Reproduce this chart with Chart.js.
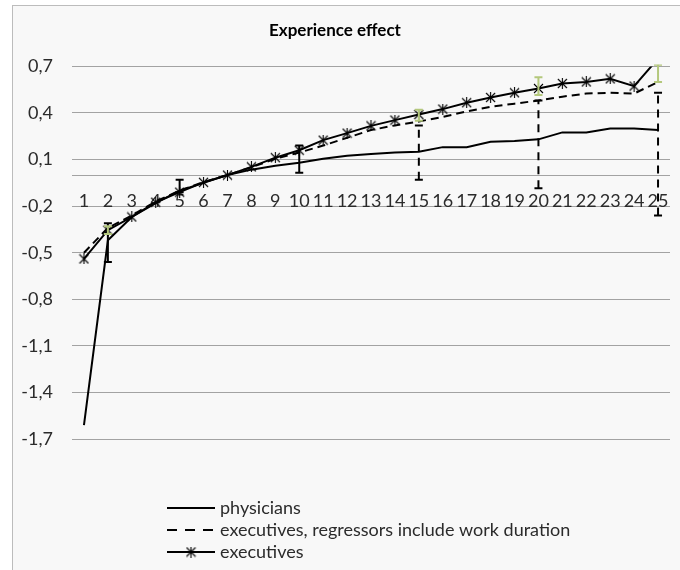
<!DOCTYPE html>
<html>
<head>
<meta charset="utf-8">
<script src="https://cdn.jsdelivr.net/npm/chart.js@4.4.0/dist/chart.umd.min.js"></script>
<style>
    html, body { margin: 0; padding: 0; background: #ffffff; overflow: hidden; }
    .frame {
        position: absolute; left: 12px; top: 5px; width: 700px; height: 600px;
        border: 1px solid #bcbcbc; background: #f8f8f8;
    }
    #wrap { position: absolute; left: 0; top: 0; width: 680px; height: 570px; }
</style>
</head>
<body>
<div class="frame"></div>
<div id="wrap"><canvas id="experienceChart" width="680" height="570"></canvas></div>
<script>
// years of experience
const years = ['1', '2', '3', '4', '5', '6', '7', '8', '9', '10', '11', '12', '13',
    '14', '15', '16', '17', '18', '19', '20', '21', '22', '23', '24', '25'];

const physicians = [-1.61, -0.42, -0.27, -0.18, -0.10, -0.05, 0.0, 0.035, 0.06, 0.08, 0.105, 0.125, 0.135,
    0.145, 0.15, 0.18, 0.18, 0.215, 0.22, 0.23, 0.275, 0.275, 0.30, 0.30, 0.29];

const executivesWork = [-0.50, -0.34, -0.26, -0.17, -0.10, -0.045, 0.0, 0.05, 0.105, 0.145, 0.19, 0.24, 0.29,
    0.32, 0.345, 0.375, 0.41, 0.44, 0.46, 0.48, 0.505, 0.525, 0.53, 0.525, 0.60];

const executives = [-0.54, -0.355, -0.27, -0.175, -0.11, -0.047, 0.0, 0.053, 0.112, 0.16, 0.225, 0.27, 0.317,
    0.354, 0.39, 0.425, 0.466, 0.50, 0.53, 0.558, 0.59, 0.60, 0.62, 0.573, 0.75];

const yTicks = [-1.7, -1.4, -1.1, -0.8, -0.5, -0.2, 0.1, 0.4, 0.7];

// error bars (year, low, high)
const solidErrYears = [2, 5, 10];
const solidErrLow = [-0.56, -0.11, 0.015];
const solidErrHigh = [-0.31, -0.03, 0.19];

const dashedErrYears = [15, 20, 25];
const dashedErrLow = [-0.03, -0.085, -0.26];
const dashedErrHigh = [0.32, 0.48, 0.53];

const greenErrYears = [2, 15, 20, 25];
const greenErrLow = [-0.38, 0.35, 0.515, 0.60];
const greenErrHigh = [-0.33, 0.42, 0.63, 0.71];

const FONT = 'Lato, "Open Sans", sans-serif';
const TEXT = '#2b2b2b';

// Excel-like star marker: an x with a vertical stroke
function makeStar() {
    const c = document.createElement('canvas');
    c.width = 11;
    c.height = 11;
    const g = c.getContext('2d');
    g.strokeStyle = '#000';
    g.lineWidth = 1.1;
    g.beginPath();
    g.moveTo(1, 1); g.lineTo(10, 10);
    g.moveTo(10, 1); g.lineTo(1, 10);
    g.moveTo(5.5, 0); g.lineTo(5.5, 11);
    g.stroke();
    return c;
}
const star = makeStar();

const errorBarGroups = [
    { years: solidErrYears, low: solidErrLow, high: solidErrHigh, color: '#000', dash: [] },
    { years: dashedErrYears, low: dashedErrLow, high: dashedErrHigh, color: '#000', dash: [8, 6] },
    { years: greenErrYears, low: greenErrLow, high: greenErrHigh, color: '#b4c87c', dash: [] }
];

const errorBarPlugin = {
    id: 'errorBars',
    afterDatasetsDraw(chart) {
        const { ctx, chartArea, scales: { x, y } } = chart;
        ctx.save();
        ctx.beginPath();
        ctx.rect(chartArea.left, chartArea.top - 2, chartArea.width, chartArea.height + 4);
        ctx.clip();
        errorBarGroups.forEach(group => {
            ctx.strokeStyle = group.color;
            ctx.lineWidth = 2;
            group.years.forEach((yr, i) => {
                const px = x.getPixelForValue(yr - 1);
                const lo = y.getPixelForValue(group.low[i]);
                const hi = y.getPixelForValue(group.high[i]);
                ctx.setLineDash(group.dash);
                ctx.beginPath();
                ctx.moveTo(px, lo);
                ctx.lineTo(px, hi);
                ctx.stroke();
                ctx.setLineDash([]);
                ctx.beginPath();
                ctx.moveTo(px - 4, lo); ctx.lineTo(px + 4, lo);
                ctx.moveTo(px - 4, hi); ctx.lineTo(px + 4, hi);
                ctx.stroke();
            });
        });
        ctx.restore();
    }
};

// legend stacked below the plot, one entry per row
const stackedLegendPlugin = {
    id: 'stackedLegend',
    afterDraw(chart) {
        const ctx = chart.ctx;
        const left = 167, right = 215, top = 508, row = 22;
        ctx.save();
        chart.data.datasets.forEach((ds, i) => {
            const cy = top + i * row;
            ctx.strokeStyle = ds.borderColor;
            ctx.lineWidth = ds.borderWidth;
            ctx.setLineDash(ds.borderDash ? [10, 8] : []);
            ctx.beginPath();
            ctx.moveTo(left, cy);
            ctx.lineTo(right, cy);
            ctx.stroke();
            ctx.setLineDash([]);
            if (ds.pointStyle instanceof HTMLCanvasElement) {
                const s = ds.pointStyle;
                ctx.drawImage(s, (left + right) / 2 - s.width / 2, cy - s.height / 2);
            }
            ctx.fillStyle = TEXT;
            ctx.font = '18px ' + FONT;
            ctx.textBaseline = 'middle';
            ctx.textAlign = 'left';
            ctx.fillText(ds.label, right + 5, cy);
        });
        ctx.restore();
    }
};

const ctx = document.getElementById('experienceChart').getContext('2d');
new Chart(ctx, {
    type: 'line',
    data: {
        labels: years,
        datasets: [{
            label: 'physicians',
            data: physicians,
            borderColor: '#000',
            borderWidth: 2,
            pointRadius: 0,
            tension: 0
        }, {
            label: 'executives, regressors include work duration',
            data: executivesWork,
            borderColor: '#000',
            borderWidth: 2,
            borderDash: [8, 5],
            pointRadius: 0,
            tension: 0
        }, {
            label: 'executives',
            data: executives,
            borderColor: '#000',
            borderWidth: 2,
            pointStyle: star,
            pointRadius: 5,
            tension: 0
        }]
    },
    options: {
        responsive: false,
        animation: false,
        layout: {
            padding: { left: 0, right: 10, top: 0, bottom: 131 }
        },
        plugins: {
            legend: { display: false },
            tooltip: { enabled: false },
            title: {
                display: true,
                text: 'Experience effect',
                color: '#000',
                font: { family: FONT, size: 17, weight: 'bold' },
                padding: { top: 20, bottom: 26 },
                align: 'center'
            }
        },
        scales: {
            x: {
                type: 'category',
                offset: true,
                position: { y: 0 },
                grid: { display: false },
                border: { display: false },
                ticks: {
                    color: TEXT,
                    font: { family: FONT, size: 18 },
                    padding: 7,
                    maxRotation: 0,
                    autoSkip: false
                }
            },
            y: {
                min: -1.7,
                max: 0.7,
                afterBuildTicks: scale => {
                    scale.ticks = yTicks.concat([0]).map(v => ({ value: v }));
                },
                afterFit: scale => { scale.width = 72; },
                grid: { color: '#a3a3a3', lineWidth: 1, drawTicks: false },
                border: { display: false },
                ticks: {
                    color: TEXT,
                    font: { family: FONT, size: 18 },
                    padding: 19,
                    callback: v => Math.abs(v) < 1e-9 ? '' : v.toFixed(1).replace('.', ',')
                }
            }
        }
    },
    plugins: [errorBarPlugin, stackedLegendPlugin]
});
</script>
</body>
</html>
